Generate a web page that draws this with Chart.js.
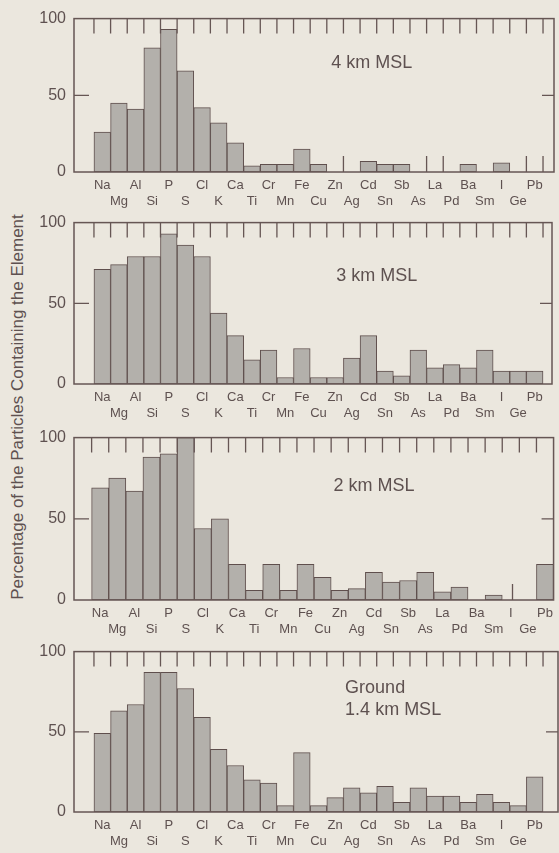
<!DOCTYPE html>
<html>
<head>
<meta charset="utf-8">
<script src="https://cdn.jsdelivr.net/npm/chart.js@4.4.1/dist/chart.umd.min.js"></script>
<style>
  html, body { margin: 0; padding: 0; }
  body {
    width: 559px;
    height: 853px;
    background: #ebe7de;
    position: relative;
    overflow: hidden;
    font-family: "Liberation Sans", Arial, sans-serif;
  }
  canvas { position: absolute; left: 0; }
  #ytitle {
    position: absolute;
    left: 18px;
    top: 407px;
    transform: translate(-50%, -50%) rotate(-90deg);
    white-space: nowrap;
    font-size: 17px;
    color: #5e5150;
  }
</style>
</head>
<body>
<div id="ytitle">Percentage of the Particles Containing the Element</div>
<canvas id="p0"></canvas>
<canvas id="p1"></canvas>
<canvas id="p2"></canvas>
<canvas id="p3"></canvas>
<script>
// elements along the x axis, in the order they are plotted
const elements = ['Na', 'Mg', 'Al', 'Si', 'P', 'S', 'Cl', 'K', 'Ca', 'Ti', 'Cr', 'Mn', 'Fe', 'Cu',
  'Zn', 'Ag', 'Cd', 'Sn', 'Sb', 'As', 'La', 'Pd', 'Ba', 'Sm', 'I', 'Ge', 'Pb'];

// percentage of particles containing each element, per altitude
const pct4km = [26, 45, 41, 81, 93, 66, 42, 32, 19, 4, 5, 5, 15, 5, 0, 0, 7, 5, 5, 0, 0, 0, 5, 0, 6, 0, 0];
const pct3km = [71, 74, 79, 79, 93, 86, 79, 44, 30, 15, 21, 4, 22, 4, 4, 16, 30, 8, 5, 21, 10, 12, 10, 21, 8, 8, 8];
const pct2km = [69, 75, 67, 88, 90, 100, 44, 50, 22, 6, 22, 6, 22, 14, 6, 7, 17, 11, 12, 17, 5, 8, 0, 3, 0, 0, 22];
const pctGround = [49, 63, 67, 87, 87, 77, 59, 39, 29, 20, 18, 4, 37, 4, 9, 15, 12, 16, 6, 15, 10, 10, 6, 11, 6, 4, 22];

const yTicks = [0, 50, 100];

// panel captions
const captions4km = ['4 km MSL'];
const captions3km = ['3 km MSL'];
const captions2km = ['2 km MSL'];
const captionsGround = ['Ground', '1.4 km MSL'];

// short stubs rising from the baseline, in slot units
const stubs4km = [14.5, 19.5, 20.5, 25.5, 26.5];
const stubs2km = [24.1];

const INK = '#665654';
const TEXT = '#5e5150';
const FONT = '"Liberation Sans", Arial, sans-serif';

// frame, inner tick marks and caption for each panel
const panelFrame = {
  id: 'panelFrame',
  afterDatasetsDraw(chart, args, opts) {
    const { ctx, chartArea: a, scales: { x, y } } = chart;
    ctx.save();
    ctx.strokeStyle = INK;
    ctx.lineWidth = 1.5;
    ctx.strokeRect(a.left, a.top, a.right - a.left, a.bottom - a.top);

    ctx.lineWidth = 1.3;
    ctx.beginPath();
    for (let i = 0; i <= elements.length; i++) {
      const px = x.getPixelForValue(i - 0.5);
      if (px >= a.right - 1) continue;
      ctx.moveTo(px, a.top);
      ctx.lineTo(px, a.top + 15);
    }
    const y50 = y.getPixelForValue(50);
    ctx.moveTo(a.left, y50);
    ctx.lineTo(a.left + 15, y50);
    ctx.moveTo(a.right, y50);
    ctx.lineTo(a.right - 12, y50);
    (opts.stubs || []).forEach(s => {
      const px = x.getPixelForValue(s);
      ctx.moveTo(px, a.bottom);
      ctx.lineTo(px, a.bottom - 16);
    });
    ctx.stroke();

    ctx.fillStyle = TEXT;
    ctx.font = '18px ' + FONT;
    ctx.textAlign = opts.align || 'center';
    ctx.textBaseline = 'middle';
    const cx = x.getPixelForValue(opts.at[0]);
    opts.captions.forEach((t, k) => {
      ctx.fillText(t, cx, y.getPixelForValue(opts.at[1]) + k * 22);
    });
    ctx.restore();
  }
};

function makePanel(id, values, layout, captions, at, align, stubs) {
  const canvas = document.getElementById(id);
  const padTop = 14, axisH = 42;
  const h = layout.zero - layout.top + padTop + axisH;
  canvas.width = 559;
  canvas.height = h;
  canvas.style.top = (layout.top - padTop) + 'px';

  new Chart(canvas, {
    type: 'bar',
    data: {
      datasets: [{
        data: values.map((v, i) => ({ x: i, y: v })),
        backgroundColor: '#b3b0ab',
        borderColor: '#5f4f4d',
        borderWidth: 1,
        borderSkipped: false,
        barPercentage: 1,
        categoryPercentage: 1
      }]
    },
    options: {
      responsive: false,
      animation: false,
      events: [],
      layout: { padding: { top: padTop, right: 559 - layout.right, left: 0, bottom: 0 } },
      plugins: {
        legend: { display: false },
        tooltip: { enabled: false },
        panelFrame: { captions, at, align, stubs }
      },
      scales: {
        x: {
          type: 'linear',
          offset: false,
          min: layout.xMin,
          max: layout.xMax,
          grid: { display: false, drawTicks: false },
          border: { display: false },
          afterBuildTicks: s => { s.ticks = elements.map((e, i) => ({ value: i })); },
          afterFit: s => { s.height = axisH; },
          ticks: {
            autoSkip: false,
            maxRotation: 0,
            minRotation: 0,
            padding: 6,
            color: TEXT,
            font: { family: FONT, size: 13, lineHeight: 1.2 },
            callback: v => {
              const i = Math.round(v);
              return i % 2 ? ['', elements[i]] : elements[i];
            }
          }
        },
        y: {
          min: 0,
          max: 100,
          grid: { display: false, drawTicks: false },
          border: { display: false },
          afterBuildTicks: s => { s.ticks = yTicks.map(v => ({ value: v })); },
          afterFit: s => { s.width = 74; },
          ticks: {
            padding: 8,
            color: TEXT,
            font: { family: FONT, size: 16 }
          }
        }
      }
    },
    plugins: [panelFrame]
  });
}

makePanel('p0', pct4km, { top: 15, zero: 172, right: 554, xMin: -1.7, xMax: 27.16 },
  captions4km, [16.2, 71], 'center', stubs4km);
makePanel('p1', pct3km, { top: 219, zero: 384, right: 552, xMin: -1.7, xMax: 27.04 },
  captions3km, [16.5, 67], 'center', []);
makePanel('p2', pct2km, { top: 434, zero: 600, right: 557, xMin: -1.53, xMax: 26.5 },
  captions2km, [16.0, 70], 'center', stubs2km);
makePanel('p3', pctGround, { top: 648, zero: 812, right: 558, xMin: -1.7, xMax: 27.4 },
  captionsGround, [14.6, 77], 'left', []);
</script>
</body>
</html>
